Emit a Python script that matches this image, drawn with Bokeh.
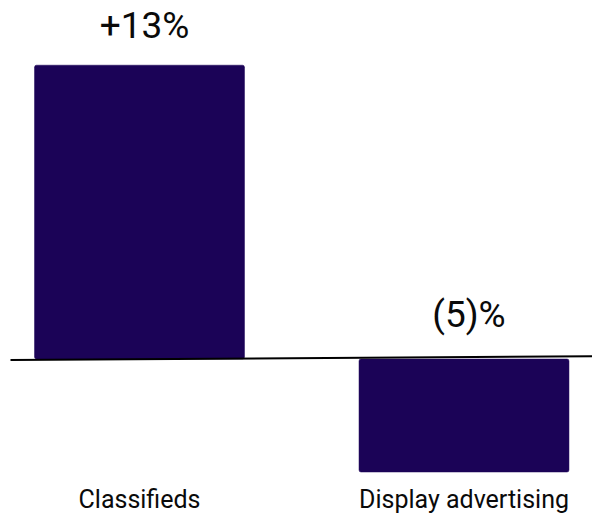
from bokeh.plotting import figure
from bokeh.models import Range1d, ColumnDataSource
from bokeh.core.properties import value
from bokeh.embed import file_html
from bokeh.resources import INLINE

categories = ["Classifieds", "Display advertising"]
values = [13, -5]
value_labels = ["+13%", "(5)%"]

W, H = 592, 515
px_per_cat = 324.5
px_per_pct = 22.6
first_center_px = 139.0
zero_px = 358.5

x_start = 0.5 - first_center_px / px_per_cat
x_end = x_start + W / px_per_cat
y_top = zero_px / px_per_pct
y_bottom = -(H - zero_px) / px_per_pct

xs = [i + 0.5 for i in range(len(categories))]

p = figure(width=W, height=H, output_backend="svg", toolbar_location=None,
           x_range=Range1d(x_start, x_end),
           y_range=Range1d(y_bottom, y_top), min_border=0)
p.axis.visible = False
p.grid.visible = False
p.outline_line_color = None
p.background_fill_color = "white"
p.border_fill_color = "white"

src = ColumnDataSource(dict(
    x=xs, cat=categories, val=values, lab=value_labels,
    ly=[max(v, 0) for v in values],
    yoff=[-40 if v > 0 else -45 for v in values],
    cy=[y_bottom] * len(categories),
))

bar_color = "#1b0357"
p.vbar(x="x", top="val", bottom=0, width=0.647, source=src,
       fill_color=bar_color, line_color=bar_color, line_width=0.5,
       border_radius=2)

# baseline (slightly tilted as in the reference)
p.segment(x0=[x_start + 10 / px_per_cat], y0=[-1.0 / px_per_pct],
          x1=[x_end], y1=[2.7 / px_per_pct],
          line_color="black", line_width=2)

p.text(x="x", y="ly", text="lab", source=src, x_offset=5, y_offset="yoff",
       text_align="center", text_baseline="alphabetic",
       text_font=value("Roboto"), text_font_size="37px", text_color="#0a0a0a")

p.text(x="x", y="cy", text="cat", source=src, y_offset=-16,
       text_align="center", text_baseline="alphabetic",
       text_font=value("Roboto"), text_font_size="25px", text_color="#0a0a0a")

open("out.html", "w").write(file_html(p, INLINE))
